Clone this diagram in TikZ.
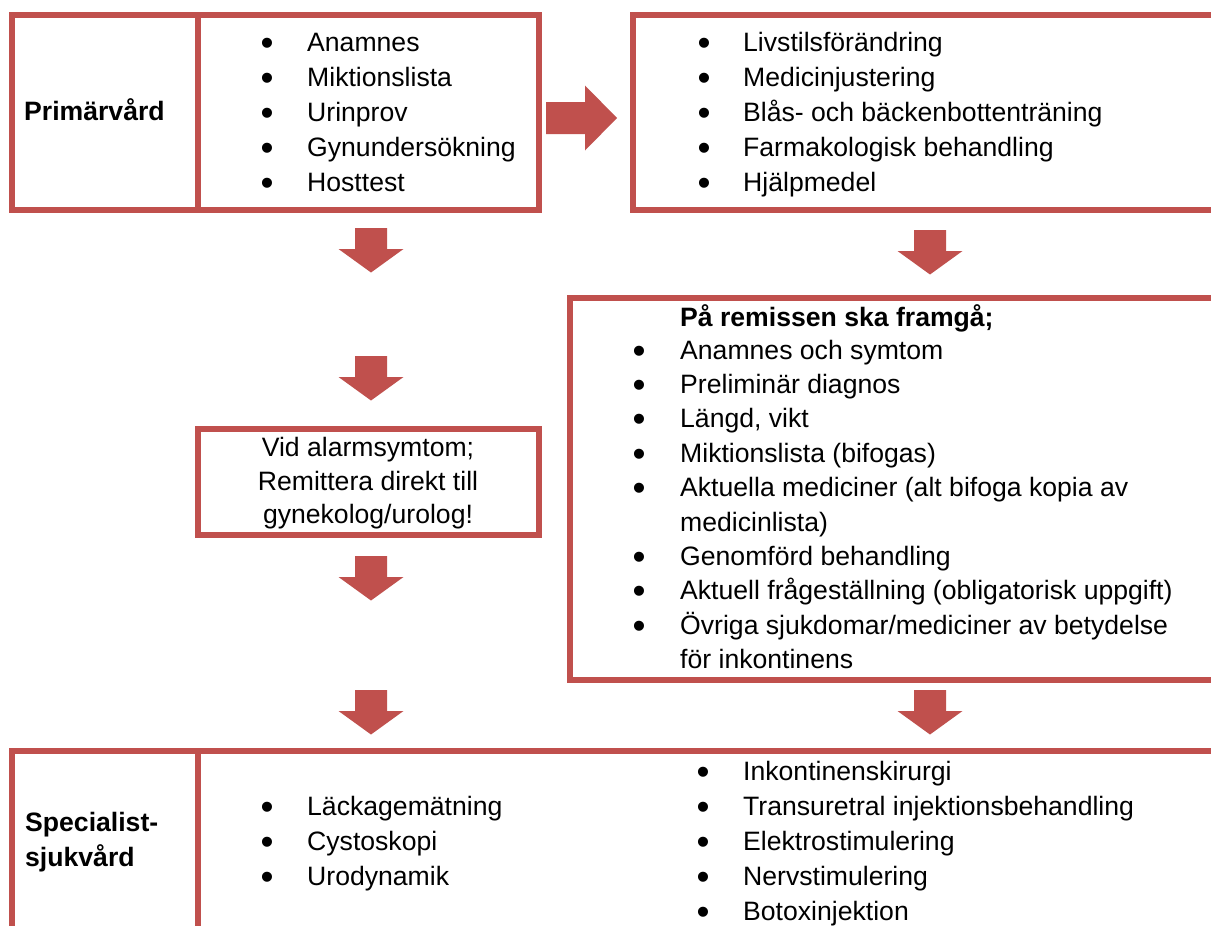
\documentclass[tikz,border=0pt]{standalone}
\usepackage{fontspec}
\setmainfont{Liberation Sans}
\definecolor{accent}{HTML}{C0504D}
\newcommand{\bodyfs}{\fontsize{26.6}{34.6}\selectfont}
\newcommand{\bulfs}{\fontsize{37}{37}\selectfont}
\tikzset{
  frame/.style={draw=accent, line width=6pt},
  itemtext/.style={anchor=base west, inner sep=0pt, font=\bodyfs},
  headtext/.style={anchor=base west, inner sep=0pt, font=\bodyfs\bfseries},
  centertext/.style={anchor=base, inner sep=0pt, font=\bodyfs},
  bul/.style={anchor=base, inner sep=0pt, font=\bulfs, yshift=-4pt},
  downarr/.pic={\fill[accent] (-16,0) -- (16,0) -- (16,21) -- (32.5,21) -- (0,44.5) -- (-32.5,21) -- (-16,21) -- cycle;},
  rightarr/.pic={\fill[accent] (0,-16) -- (39,-16) -- (39,-32.5) -- (71,0) -- (39,32.5) -- (39,16) -- (0,16) -- cycle;}
}
\begin{document}
\begin{tikzpicture}[x=1pt,y=-1pt]
\useasboundingbox (0,0) rectangle (1211,926);
\clip (0,0) rectangle (1211,926);
\fill[white] (0,0) rectangle (1211,926);

% frames
\draw[frame] (12,14.5) rectangle (539,210);
\draw[frame] (198,14.5) -- (198,210);
\draw[frame] (1225,14.5) -- (632.5,14.5) -- (632.5,210) -- (1225,210);
\draw[frame] (1225,298) -- (570,298) -- (570,680) -- (1225,680);
\draw[frame] (198,429) rectangle (539,535);
\draw[frame] (12,940) -- (12,750.5) -- (1225,750.5);
\draw[frame] (198,750.5) -- (198,940);

% block arrows
\pic at (546,118) {rightarr};
\pic at (371,228) {downarr};
\pic at (371,356) {downarr};
\pic at (371,556) {downarr};
\pic at (371,690) {downarr};
\pic at (930,230) {downarr};
\pic at (930,690) {downarr};

% Primaervard box
\node[headtext] (prim) at (24,120) {Primärvård};
\foreach \t [count=\i from 0] in {Anamnes, Miktionslista, Urinprov, Gynundersökning, Hosttest} {
  \node[bul] (pb\i) at (267,51+35*\i) {•};
  \node[itemtext] (pi\i) at (307,51+35*\i) {\t};
}

% top right box
\foreach \t [count=\i from 0] in {Livstilsförändring, Medicinjustering, Blås- och bäckenbottenträning, Farmakologisk behandling, Hjälpmedel} {
  \node[bul] (tb\i) at (704,51+35*\i) {•};
  \node[itemtext] (ti\i) at (743,51+35*\i) {\t};
}

% alarm box
\node[centertext] (vid1) at (368,456.5) {Vid alarmsymtom;};
\node[centertext] (vid2) at (368,490) {Remittera direkt till};
\node[centertext] (vid3) at (368,523.5) {gynekolog/urolog!};

% remiss box
\node[headtext] (rh) at (680,326) {På remissen ska framgå;};
\node[bul] (rb0) at (639,359) {•};
\node[itemtext] (ri0) at (680,359) {Anamnes och symtom};
\node[bul] (rb1) at (639,393.4) {•};
\node[itemtext] (ri1) at (680,393.4) {Preliminär diagnos};
\node[bul] (rb2) at (639,427.8) {•};
\node[itemtext] (ri2) at (680,427.8) {Längd, vikt};
\node[bul] (rb3) at (639,462.2) {•};
\node[itemtext] (ri3) at (680,462.2) {Miktionslista (bifogas)};
\node[bul] (rb4) at (639,496.6) {•};
\node[itemtext] (ri4) at (680,496.6) {Aktuella mediciner (alt bifoga kopia av};
\node[itemtext] (ri5) at (680,531) {medicinlista)};
\node[bul] (rb6) at (639,565.4) {•};
\node[itemtext] (ri6) at (680,565.4) {Genomförd behandling};
\node[bul] (rb7) at (639,599.8) {•};
\node[itemtext] (ri7) at (680,599.8) {Aktuell frågeställning (obligatorisk uppgift)};
\node[bul] (rb8) at (639,634.2) {•};
\node[itemtext] (ri8) at (680,634.2) {Övriga sjukdomar/mediciner av betydelse};
\node[itemtext] (ri9) at (680,668.6) {för inkontinens};

% specialist box
\node[headtext] (spec1) at (25,831) {Specialist-};
\node[headtext] (spec2) at (25,866) {sjukvård};
\foreach \t [count=\i from 0] in {Läckagemätning, Cystoskopi, Urodynamik} {
  \node[bul] (sb\i) at (267,815+35*\i) {•};
  \node[itemtext] (si\i) at (307,815+35*\i) {\t};
}
\foreach \t [count=\i from 0] in {Inkontinenskirurgi, Transuretral injektionsbehandling, Elektrostimulering, Nervstimulering, Botoxinjektion} {
  \node[bul] (xb\i) at (703,780+35*\i) {•};
  \node[itemtext] (xi\i) at (743,780+35*\i) {\t};
}
\end{tikzpicture}
\end{document}
